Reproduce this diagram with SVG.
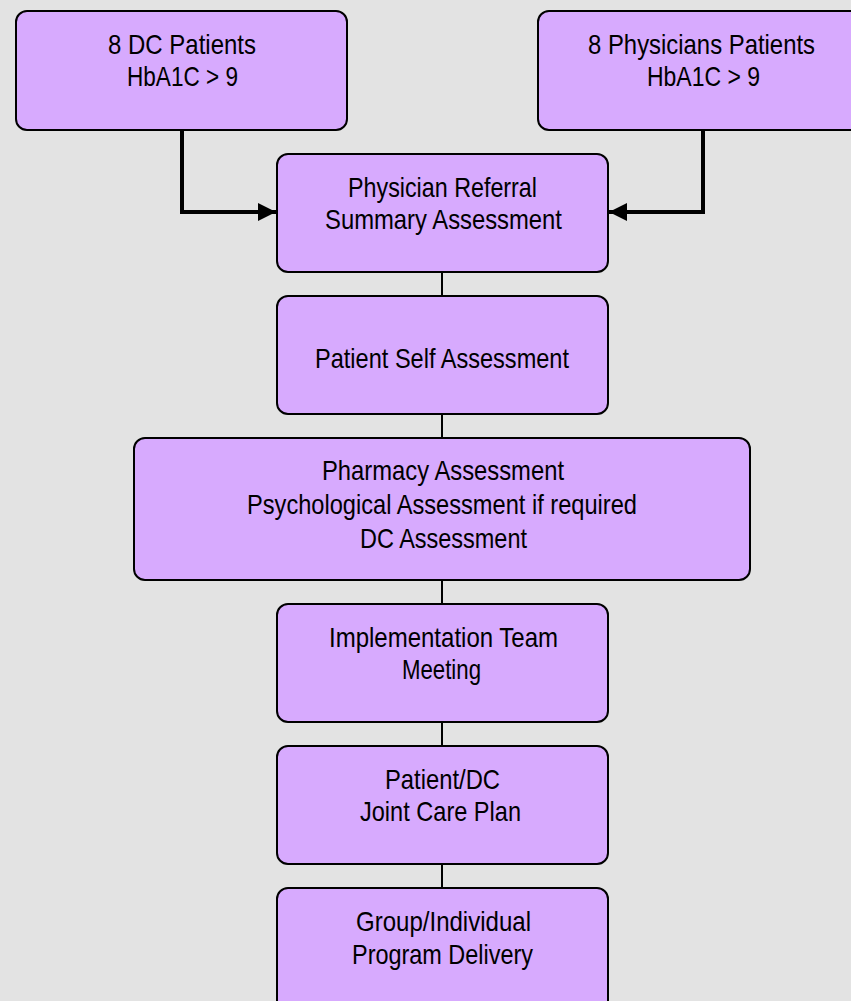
<svg xmlns="http://www.w3.org/2000/svg" width="851" height="1001" viewBox="0 0 851 1001">
<style>
.box{fill:#d7aafe;stroke:#000;stroke-width:2}
.t{font-family:"Liberation Sans",Arial,sans-serif;font-size:28px;fill:#000}
.thin{stroke:#000;stroke-width:2;fill:none}
.thick{stroke:#000;stroke-width:4;fill:none}
</style>
<defs>
<marker id="ah" viewBox="0 0 10 10" refX="10" refY="5" markerWidth="4.5" markerHeight="4.5" orient="auto" markerUnits="strokeWidth" preserveAspectRatio="none">
<path d="M0,0 L10,5 L0,10 Z" fill="#000"/>
</marker>
</defs>
<rect width="851" height="1001" fill="#e3e3e3"/>
<g id="connectors">
<polyline class="thick" points="182,130 182,212 276,212" marker-end="url(#ah)"/>
<polyline class="thick" points="703,130 703,212 609,212" marker-end="url(#ah)"/>
<line class="thin" x1="442" y1="272" x2="442" y2="296"/>
<line class="thin" x1="442" y1="414" x2="442" y2="438"/>
<line class="thin" x1="442" y1="580" x2="442" y2="604"/>
<line class="thin" x1="442" y1="722" x2="442" y2="746"/>
<line class="thin" x1="442" y1="864" x2="442" y2="888"/>
</g>
<g id="n1">
<rect class="box" x="16" y="11" width="331" height="119" rx="11"/>
<text class="t" x="108" y="54" textLength="148" lengthAdjust="spacingAndGlyphs">8 DC Patients</text>
<text class="t" x="127" y="86" textLength="111" lengthAdjust="spacingAndGlyphs">HbA1C &gt; 9</text>
</g>
<g id="n2">
<rect class="box" x="538" y="11" width="331" height="119" rx="11"/>
<text class="t" x="588" y="54" textLength="227" lengthAdjust="spacingAndGlyphs">8 Physicians Patients</text>
<text class="t" x="647" y="86" textLength="113" lengthAdjust="spacingAndGlyphs">HbA1C &gt; 9</text>
</g>
<g id="n3">
<rect class="box" x="277" y="154" width="331" height="118" rx="11"/>
<text class="t" x="348" y="197" textLength="189" lengthAdjust="spacingAndGlyphs">Physician Referral</text>
<text class="t" x="325" y="229" textLength="237" lengthAdjust="spacingAndGlyphs">Summary Assessment</text>
</g>
<g id="n4">
<rect class="box" x="277" y="296" width="331" height="118" rx="11"/>
<text class="t" x="315" y="368" textLength="254" lengthAdjust="spacingAndGlyphs">Patient Self Assessment</text>
</g>
<g id="n5">
<rect class="box" x="134" y="438" width="616" height="142" rx="11"/>
<text class="t" x="322" y="480" textLength="242" lengthAdjust="spacingAndGlyphs">Pharmacy Assessment</text>
<text class="t" x="247" y="514" textLength="390" lengthAdjust="spacingAndGlyphs">Psychological Assessment if required</text>
<text class="t" x="360" y="548" textLength="167" lengthAdjust="spacingAndGlyphs">DC Assessment</text>
</g>
<g id="n6">
<rect class="box" x="277" y="604" width="331" height="118" rx="11"/>
<text class="t" x="329" y="647" textLength="229" lengthAdjust="spacingAndGlyphs">Implementation Team</text>
<text class="t" x="402" y="679" textLength="79" lengthAdjust="spacingAndGlyphs">Meeting</text>
</g>
<g id="n7">
<rect class="box" x="277" y="746" width="331" height="118" rx="11"/>
<text class="t" x="385" y="789" textLength="115" lengthAdjust="spacingAndGlyphs">Patient/DC</text>
<text class="t" x="360" y="821" textLength="161" lengthAdjust="spacingAndGlyphs">Joint Care Plan</text>
</g>
<g id="n8">
<rect class="box" x="277" y="888" width="331" height="130" rx="11"/>
<text class="t" x="356" y="931" textLength="175" lengthAdjust="spacingAndGlyphs">Group/Individual</text>
<text class="t" x="352" y="964" textLength="181" lengthAdjust="spacingAndGlyphs">Program Delivery</text>
</g>
</svg>
